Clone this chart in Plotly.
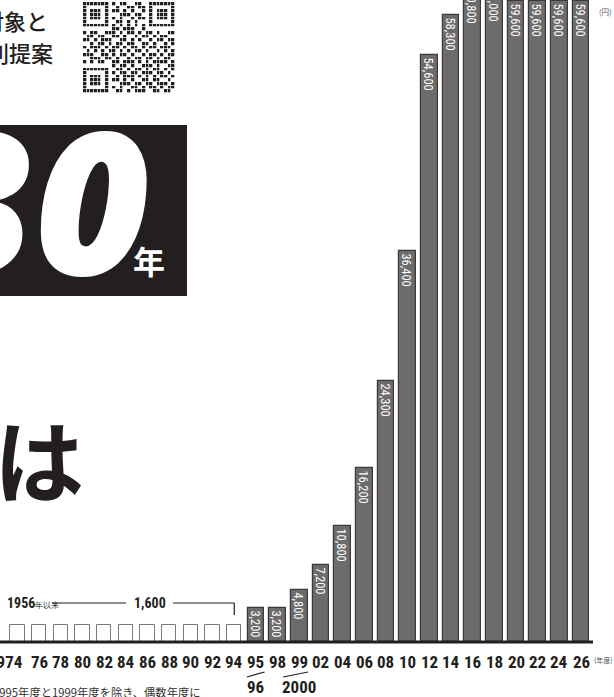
import plotly.graph_objects as go

# ---------------- data ----------------
year_labels = ["1974", "76", "78", "80", "82", "84", "86", "88", "90", "92", "94",
               "95", "98", "99", "02", "04", "06", "08", "10", "12", "14", "16",
               "18", "20", "22", "24", "26"]
second_row = {"95": "96", "99": "2000"}
flat_value = 1600          # 1956年以来 (1974〜94)
flat_count = 11
rise_values = [3200, 3200, 4800, 7200, 10800, 16200, 24300, 36400, 54600,
               58300, 60800, 61000, 59600, 59600, 59600, 59600]
footnote = "1995年度と1999年度を除き、偶数年度に"

# ---------------- layout helpers (pixel -> axis / paper) ----------------
W, H = 614, 697
PX0, PXW = 17.6, 21.67          # centre of first category, pixels per category
BASE_PX, YEN_PER_PX = 642, 93.0

def xc(px):
    return (px - PX0) / PXW

def py(px):
    return 1 - px / H

def pxp(px):
    return px / W

DARK = "#231f20"
NARROW = "Roboto Condensed, Liberation Sans Narrow, DejaVu Sans Condensed, Roboto, sans-serif"
JP = "Noto Sans CJK JP, sans-serif"

idx_flat = list(range(flat_count))
idx_rise = list(range(flat_count, flat_count + len(rise_values)))

fig = go.Figure()

fig.add_trace(go.Bar(
    x=idx_flat, y=[flat_value] * flat_count, width=0.66,
    marker=dict(color="white", line=dict(color="#7d7878", width=1)),
    hoverinfo="skip", showlegend=False,
))

fig.add_trace(go.Bar(
    x=idx_rise, y=rise_values, width=0.78,
    marker=dict(color="#6d6b6b", line=dict(color="#3e3939", width=1.2)),
    text=[f"{v:,}" for v in rise_values],
    textposition="inside", insidetextanchor="end", textangle=90,
    constraintext="none",
    textfont=dict(family=NARROW, size=12.5, color="white"),
    cliponaxis=True, hoverinfo="skip", showlegend=False,
))

# decorative QR code (fixed module pattern)
F = ["1111111", "1000001", "1011101", "1011101", "1011101", "1000001", "1111111"]
d_top = ["101100110", "010011011", "110101001", "001110110", "101001011",
         "011010100", "101010101"]
d_mid = ["1011001110101101011010011", "0110110011010010110101100",
         "1101011100110101001011011", "0010110101101100110100101",
         "1011101011010110101101110", "0101010110101011010010101",
         "1110011010110100101101011", "0011101101001011011010110",
         "1010110011011101010111101"]
d_bot = ["01101011010110101", "10110110111011010", "01011101010101101",
         "11010100110110010", "00111011011011101", "10100110101101011",
         "01101011100110110"]
qr = [F[i] + "0" + d_top[i] + "0" + F[i] for i in range(7)]
qr.append("00000000" + "110111001" + "00000000")
qr += d_mid
qr.append("00000000" + "10110100111010011")
qr += [F[i] + "0" + d_bot[i] for i in range(7)]
fig.add_trace(go.Heatmap(
    z=[[int(c) for c in row] for row in qr], xaxis="x2", yaxis="y2",
    colorscale=[[0, "white"], [1, DARK]], zmin=0, zmax=1, showscale=False,
    xgap=0.7, ygap=0.7, hoverinfo="skip",
))

def note(x, y, text, font, xref="paper", yref="paper", xanchor="center", **kw):
    return dict(x=x, y=y, xref=xref, yref=yref, text=text, showarrow=False,
                xanchor=xanchor, yanchor="middle", font=font, **kw)

ann = []
# x category labels
lab_font = dict(family=NARROW, size=17, color=DARK, weight=700)
for i, lab in enumerate(year_labels):
    ann.append(note(i, py(662), lab, lab_font, xref="x",
                    xshift=-12 if i == 0 else 0))
    if lab in second_row:
        ann.append(note(i, py(687), second_row[lab], lab_font, xref="x"))

shapes = []
for i, lab in enumerate(year_labels):
    if lab in second_row:
        left = 0.42 if len(second_row[lab]) == 2 else 0.75
        shapes.append(dict(type="line", xref="x", yref="paper",
                           x0=i - left, x1=i + 0.4, y0=py(677), y1=py(672),
                           line=dict(color=DARK, width=1.2)))

# baseline
shapes.append(dict(type="line", xref="x", yref="y", x0=xc(0), x1=xc(593), y0=0, y1=0,
                   line=dict(color=DARK, width=3)))

# 1956年以来 bracket
ann.append(note(pxp(5), py(603), "<b>1956</b><span style='font-size:8px'>年以来</span>",
                dict(family=NARROW, size=14, color=DARK), xanchor="left"))
ann.append(note(xc(150), py(603), f"<b>{flat_value:,}</b>",
                dict(family=NARROW, size=14, color=DARK), xref="x"))
shapes.append(dict(type="line", xref="x", yref="paper", x0=xc(52), x1=xc(126),
                   y0=py(603), y1=py(603), line=dict(color=DARK, width=1.2)))
shapes.append(dict(type="line", xref="x", yref="paper", x0=xc(173), x1=flat_count - 1,
                   y0=py(603), y1=py(603), line=dict(color=DARK, width=1.2)))
shapes.append(dict(type="line", xref="x", yref="paper", x0=flat_count - 1, x1=flat_count - 1,
                   y0=py(603), y1=py(615), line=dict(color=DARK, width=1.2)))

# units
ann.append(note(pxp(605), py(12), "(円)", dict(family=JP, size=7.5, color="#555")))
ann.append(note(pxp(603), py(660), "(年度)", dict(family=JP, size=7, color="#555")))

# footnote
ann.append(note(0, py(692), footnote, dict(family=JP, size=11.3, color="#333"),
                xanchor="left", xshift=-9))

# top-left headline fragment
ann.append(note(pxp(50), py(20), "対象と", dict(family=JP, size=22, color=DARK, weight=500),
                xanchor="right"))
ann.append(note(pxp(55), py(52), "別提案", dict(family=JP, size=22, color=DARK, weight=500),
                xanchor="right"))

# black box "30年"
shapes.append(dict(type="rect", xref="paper", yref="paper", x0=pxp(-2), x1=pxp(187),
                   y0=py(296), y1=py(125), fillcolor=DARK, line=dict(width=0),
                   layer="below"))
ann.append(note(pxp(152), py(198), "30",
                dict(family="Open Sans", size=198, color="white", weight=800, style="italic"),
                xanchor="right"))
ann.append(note(pxp(149), py(260), "年", dict(family=JP, size=32, color="white", weight=700)))

# big "は"
ann.append(note(pxp(86), py(457), "れは", dict(family=JP, size=90, color=DARK, weight=700),
                xanchor="right"))

fig.update_layout(
    width=W, height=H, margin=dict(l=0, r=0, t=0, b=0),
    paper_bgcolor="white", plot_bgcolor="white",
    barmode="overlay", bargap=0,
    xaxis=dict(range=[xc(0), xc(W)], visible=False, fixedrange=True),
    yaxis=dict(range=[-(H - BASE_PX) * YEN_PER_PX, BASE_PX * YEN_PER_PX],
               visible=False, fixedrange=True),
    xaxis2=dict(domain=[pxp(83), pxp(175)], anchor="y2", visible=False,
                range=[-0.5, 24.5]),
    yaxis2=dict(domain=[py(93), py(2)], anchor="x2", visible=False,
                range=[24.5, -0.5]),
    annotations=ann, shapes=shapes, font=dict(family=JP),
)

fig.write_html("out.html", config={"displayModeBar": False},
               post_script="document.body.style.margin='0';document.body.style.overflow='hidden';")
